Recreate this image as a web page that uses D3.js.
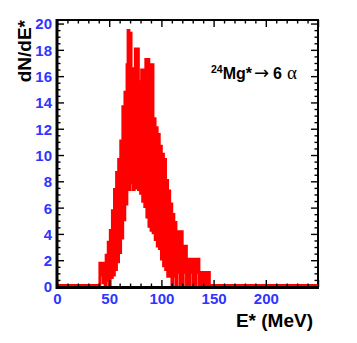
<!DOCTYPE html>
<html><head><meta charset="utf-8">
<script src="https://cdn.jsdelivr.net/npm/d3@7"></script>
<style>body{margin:0;background:#fff}svg{display:block}</style>
</head><body>
<svg id="c" width="357" height="343"></svg>
<script>
// ---- data ----
const xDomain = [0, 250];
const yDomain = [0, 20.27];
const binStart = 40;          // MeV, lower edge of first listed bin
const binWidth = 1;           // MeV
const counts = [
  0, 1.7, 0.8, 1.7, 0.2, 1.7, 0, 2.3, 0.4, 3.3,          // 40-49
  0, 4.2, 0.6, 5.7, 0.8, 7.3, 1.2, 8.6, 1.8, 9.6,        // 50-59
  2.5, 11.0, 3.6, 13.6, 5.0, 14.7, 6.2, 16.8, 19.4, 7.3, // 60-69
  19.2, 7.8, 16.5, 7.3, 16.5, 18.0, 7.4, 18.0, 7.3, 15.5, // 70-79
  7.0, 16.4, 6.4, 16.4, 6.0, 17.2, 5.2, 17.2, 4.5, 16.8, // 80-89
  4.2, 16.8, 4.0, 12.7, 3.5, 12.0, 3.0, 11.5, 2.8, 10.6, // 90-99
  2.0, 10.0, 1.5, 9.6, 1.2, 8.0, 0.7, 7.2, 0.7, 6.2,     // 100-109
  0, 5.4, 0.7, 4.8, 0, 4.1, 1.0, 4.1, 0, 4.1,            // 110-119
  0, 3.0, 1.0, 3.0, 0, 2.0, 0, 2.0, 1.0, 2.0,            // 120-129
  0, 2.0, 0, 2.0, 1.0, 2.0, 0, 1.0, 0, 1.0,              // 130-139
  0, 1.0, 0, 1.0, 0, 1.0, 0                              // 140-146
];
const xTicks = [0, 50, 100, 150, 200, 250];
const xTickLabels = ["0", "50", "100", "150", "200", ""];
const xMinorStep = 10;
const yTicks = [0, 2, 4, 6, 8, 10, 12, 14, 16, 18, 20];
const yMinorStep = 0.5;
const xTitle = "E* (MeV)";
const yTitle = "dN/dE*";

// ---- layout ----
const L = 57, R = 318, T = 20, B = 286.5;
const svg = d3.select("#c");
const x = d3.scaleLinear().domain(xDomain).range([L, R]);
const y = d3.scaleLinear().domain(yDomain).range([B, T]);
const font = "'Liberation Sans', Arial, Helvetica, sans-serif";
const blue = "#2f35ff";

// histogram outline (all bins over full range, zero outside data)
const pts = [[xDomain[0], 0]];
const nAll = Math.round((xDomain[1] - xDomain[0]) / binWidth);
for (let i = 0; i < nAll; i++) {
  const lo = xDomain[0] + i * binWidth, hi = lo + binWidth;
  const k = Math.round((lo - binStart) / binWidth);
  const v = (k >= 0 && k < counts.length) ? counts[k] : 0;
  pts.push([lo, v], [hi, v]);
}
pts.push([xDomain[1], 0]);

// frame: thin top/right, heavier left/bottom
svg.append("path").attr("d", `M${L},${T}H${R}V${B + 1}`)
  .attr("fill", "none").attr("stroke", "#000").attr("stroke-width", 2);

svg.append("path")
  .attr("d", d3.line().x(d => x(d[0])).y(d => y(d[1]) - 1)(pts))
  .attr("fill", "none").attr("stroke", "#ff0000").attr("stroke-width", 2.8)
  .attr("stroke-linejoin", "miter");

svg.append("path").attr("d", `M${L},${T - 1}V${B + 1}H${R + 1}`)
  .attr("fill", "none").attr("stroke", "#000").attr("stroke-width", 3);

const xMinor = d3.range(xDomain[0], xDomain[1] + 0.001, xMinorStep).filter(v => !xTicks.includes(v));
const yMinor = d3.range(0, 20.0001, yMinorStep).filter(v => !yTicks.includes(v));

function styleAxis(g) {
  g.select(".domain").remove();
  g.selectAll("line").attr("stroke", "#000").attr("stroke-width", 1.4);
}
// bottom
svg.append("g").attr("transform", `translate(0,${B + 0.5})`)
  .call(d3.axisBottom(x).tickValues(xTicks).tickSize(-7).tickPadding(6)
    .tickFormat((d, i) => xTickLabels[i]))
  .call(styleAxis)
  .call(g => g.selectAll("text").attr("fill", blue).attr("font-family", font)
    .attr("font-weight", "bold").attr("font-size", 15));
svg.append("g").attr("transform", `translate(0,${B + 0.5})`)
  .call(d3.axisBottom(x).tickValues(xMinor).tickSize(-3.5).tickFormat(""))
  .call(styleAxis);
// top
svg.append("g").attr("transform", `translate(0,${T})`)
  .call(d3.axisTop(x).tickValues(xTicks).tickSize(-7).tickFormat(""))
  .call(styleAxis);
svg.append("g").attr("transform", `translate(0,${T})`)
  .call(d3.axisTop(x).tickValues(xMinor).tickSize(-3.5).tickFormat(""))
  .call(styleAxis);
// left
svg.append("g").attr("transform", `translate(${L},0)`)
  .call(d3.axisLeft(y).tickValues(yTicks).tickSize(-7).tickPadding(5))
  .call(styleAxis)
  .call(g => g.selectAll("text").attr("fill", blue).attr("font-family", font)
    .attr("font-weight", "bold").attr("font-size", 15).attr("dy", "0.36em"));
svg.append("g").attr("transform", `translate(${L},0)`)
  .call(d3.axisLeft(y).tickValues(yMinor).tickSize(-3.5).tickFormat(""))
  .call(styleAxis);
// right
svg.append("g").attr("transform", `translate(${R},0)`)
  .call(d3.axisRight(y).tickValues(yTicks).tickSize(-7).tickFormat(""))
  .call(styleAxis);
svg.append("g").attr("transform", `translate(${R},0)`)
  .call(d3.axisRight(y).tickValues(yMinor).tickSize(-3.5).tickFormat(""))
  .call(styleAxis);

// titles
svg.append("text").attr("x", 313).attr("y", 327).attr("text-anchor", "end")
  .attr("font-family", font).attr("font-weight", "bold").attr("font-size", 19).text(xTitle);
svg.append("text").attr("transform", "translate(31,20) rotate(-90)").attr("text-anchor", "end")
  .attr("font-family", font).attr("font-weight", "bold").attr("font-size", 19).text(yTitle);

// annotation
const ann = svg.append("text").attr("x", 211).attr("y", 79)
  .attr("font-family", font).attr("font-weight", "bold").attr("font-size", 16);
ann.append("tspan").attr("font-size", 10.5).attr("dy", -6).text("24");
ann.append("tspan").attr("dy", 6).text("Mg*");
ann.append("tspan").attr("font-weight", "normal").attr("font-family", "'DejaVu Sans', sans-serif")
  .attr("font-size", 18).attr("dx", 2).text("\u2192");
ann.append("tspan").attr("dx", 4).text("6");
ann.append("tspan").attr("font-weight", "normal").attr("font-family", "'Liberation Serif', serif")
  .attr("font-size", 19).attr("dx", 5).text("\u03b1");
</script>
</body></html>
